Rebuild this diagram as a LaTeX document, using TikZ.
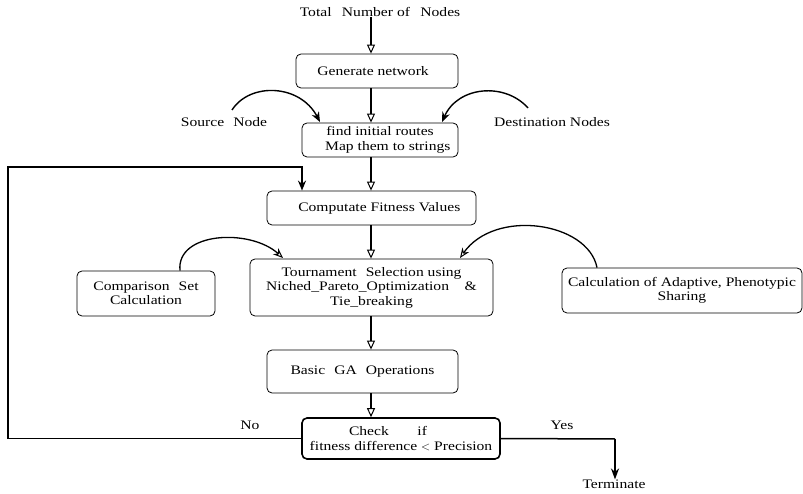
\documentclass[tikz,border=0pt]{standalone}
\usepackage{fontspec}
\setmainfont{Liberation Serif}[FakeStretch=1.2]
\usetikzlibrary{arrows.meta}
\tikzset{
  box/.style={draw, rounded corners=5pt, line width=0.8pt, inner sep=0pt, align=center, font=\fontsize{13}{14.5}\selectfont},
  txt/.style={inner sep=0pt, align=center, font=\fontsize{13}{14.5}\selectfont},
  mainarrow/.style={line width=2.4pt, -{Triangle[open, length=9pt, width=8pt, line width=1pt]}},
  arcarrow/.style={line width=1.4pt, -{Stealth[length=10pt, width=8pt]}},
  arcopen/.style={line width=1.3pt, -{Stealth[open, length=10pt, width=8pt, line width=1pt]}},
  fbline/.style={line width=1.8pt},
}
\begin{document}
\begin{tikzpicture}[x=1pt,y=-1pt]
\useasboundingbox (0,0) rectangle (803,494);
\coordinate (axis) at (371,0);
\node[txt] (title) at (380,12) {Total\hspace{0.5em} Number of\hspace{0.5em} Nodes};
\node[box, minimum width=162pt, minimum height=34pt] (gen) at (377,71) {Generate network\hspace{0.6em}};
\node[box, minimum width=156pt, minimum height=34pt] (find) at (380,140) {find initial routes\hspace{1em}\\\hspace{1.2em}Map them to strings};
\node[box, minimum width=209pt, minimum height=34pt] (comp) at (371.5,208) {\hspace{1.2em}Computate Fitness Values};
\node[box, minimum width=243pt, minimum height=57pt] (tour) at (371.5,287.5) {Tournament\hspace{0.4em} Selection using\\Niched\_Pareto\_Optimization\hspace{1.2em}\&\\Tie\_breaking\hspace{1em}};
\node[box, minimum width=138pt, minimum height=45pt] (cmp) at (146,293.5) {Comparison\hspace{0.4em} Set\hspace{0.3em}\\Calculation\hspace{1em}};
\node[box, minimum width=240pt, minimum height=45pt] (calc) at (682,290.5) {Calculation of Adaptive, Phenotypic\\Sharing};
\node[box, minimum width=191pt, minimum height=43pt] (basic) at (362.5,371.5) {Basic\hspace{0.4em} GA\hspace{0.4em} Operations};
\node[box, line width=1.6pt, minimum width=198pt, minimum height=41pt] (check) at (401,438.5) {\hspace{-2em}Check\hspace{2.2em}if\\fitness difference $<$ Precision};
\node[txt] (src) at (224,122) {Source\hspace{0.4em} Node};
\node[txt] (dst) at (552,122) {Destination Nodes};
\node[txt] (no) at (250,425) {No};
\node[txt] (yes) at (562,425) {Yes};
\node[txt] (term) at (614,484) {Terminate};
% main flow
\draw[mainarrow] (title.south -| axis) -- (gen.north -| axis);
\draw[mainarrow] (gen.south -| axis) -- (find.north -| axis);
\draw[mainarrow] (find.south -| axis) -- (comp.north -| axis);
\draw[mainarrow] (comp.south -| axis) -- (tour.north -| axis);
\draw[mainarrow] (tour.south -| axis) -- (basic.north -| axis);
\draw[mainarrow] (basic.south -| axis) -- (check.north -| axis);
% curved inputs
\coordinate (srcs) at (232,110);
\coordinate (srce) at (320,122);
\draw[arcarrow] (srcs) .. controls (250,82) and (300,84) .. (srce);
\coordinate (dsts) at (528,108);
\coordinate (dste) at (442,122);
\draw[arcarrow] (dsts) .. controls (505,82) and (458,86) .. (dste);
\coordinate (cmpe) at (283,258);
\draw[arcopen] (cmp.north -| 180,0) .. controls (176,232) and (250,228) .. (cmpe);
\coordinate (calce) at (460,258);
\draw[arcopen] (calc.north -| 597,0) .. controls (588,222) and (495,208) .. (calce);
% feedback loop
\coordinate (lc) at (8,167);
\coordinate (tc) at (302,167);
\draw[fbline, -{Stealth[length=10pt, width=8pt]}] (check.west) -| (lc) -- (tc) -- (tc |- comp.north);
% yes branch
\coordinate (yc) at (615,439);
\draw[line width=1.5pt] (check.east) -- (yc);
\draw[line width=1.8pt, -{Stealth[length=11pt, width=8pt]}] (yc) -- (yc |- term.north);
\end{tikzpicture}
\end{document}
